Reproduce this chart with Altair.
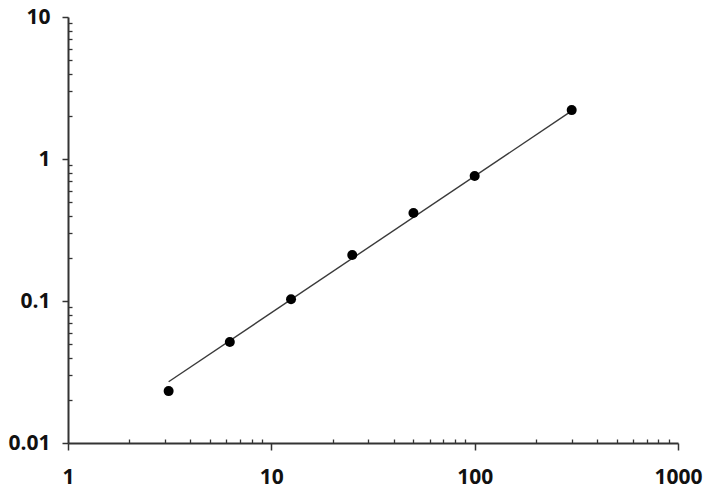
import altair as alt
import pandas as pd

# data
conc = [3.125, 6.25, 12.5, 25, 50, 100, 300]
signal = [0.0232, 0.0514, 0.103, 0.211, 0.417, 0.759, 2.21]
fit_x = [3.125, 300]
fit_y = [0.027, 2.18]

x_major = [1, 10, 100, 1000]
y_major = [0.01, 0.1, 1, 10]
x_minor = [m * d for d in [1, 10, 100] for m in range(2, 10)]
y_minor = [m * d for d in [0.01, 0.1, 1] for m in range(2, 10)]

pts = pd.DataFrame({"x": conc, "y": signal})
fit = pd.DataFrame({"x": fit_x, "y": fit_y})

AX = "#333333"
FONT = "Open Sans"

xs = alt.Scale(type="log", domain=[1, 1000], nice=False)
ys = alt.Scale(type="log", domain=[0.01, 10], nice=False)

major_x = alt.Axis(values=x_major, orient="bottom", format="~g", title=None, grid=False,
                   tickSize=7, tickWidth=1.5, tickColor=AX,
                   domainColor=AX, domainWidth=2,
                   labelFont=FONT, labelFontSize=21, labelFontWeight="bold",
                   labelColor="#111111", labelPadding=16, labelFlush=False)
major_y = alt.Axis(values=y_major, orient="left", format="~g", title=None, grid=False,
                   tickSize=6, tickWidth=1.5, tickColor=AX,
                   domainColor=AX, domainWidth=2,
                   labelFont=FONT, labelFontSize=21, labelFontWeight="bold",
                   labelColor="#111111", labelPadding=12, labelFlush=False)
minor_x = alt.Axis(values=x_minor, orient="bottom", title=None, grid=False, labels=False,
                   domain=False, tickSize=4, tickWidth=1.3, tickColor=AX, offset=-4)
minor_y = alt.Axis(values=y_minor, orient="left", title=None, grid=False, labels=False,
                   domain=False, tickSize=4, tickWidth=1.3, tickColor=AX, offset=-4)

line = alt.Chart(fit).mark_line(color="#3a3a3a", strokeWidth=1.4).encode(
    x=alt.X("x:Q", scale=xs, axis=minor_x),
    y=alt.Y("y:Q", scale=ys, axis=minor_y),
)

points = alt.Chart(pts).mark_circle(color="black", opacity=1, size=100).encode(
    x=alt.X("x:Q", scale=xs, axis=major_x),
    y=alt.Y("y:Q", scale=ys, axis=major_y),
)

chart = alt.layer(line, points).resolve_scale(
    x="independent", y="independent"
).resolve_axis(
    x="independent", y="independent"
).properties(
    width=610, height=426,
    autosize=alt.AutoSizeParams(type="none"),
    padding={"left": 60, "top": 9, "right": 30, "bottom": 53},
    background="white",
).configure_view(stroke=None)

chart.save("out.html", embed_options={"renderer": "svg", "actions": False})
